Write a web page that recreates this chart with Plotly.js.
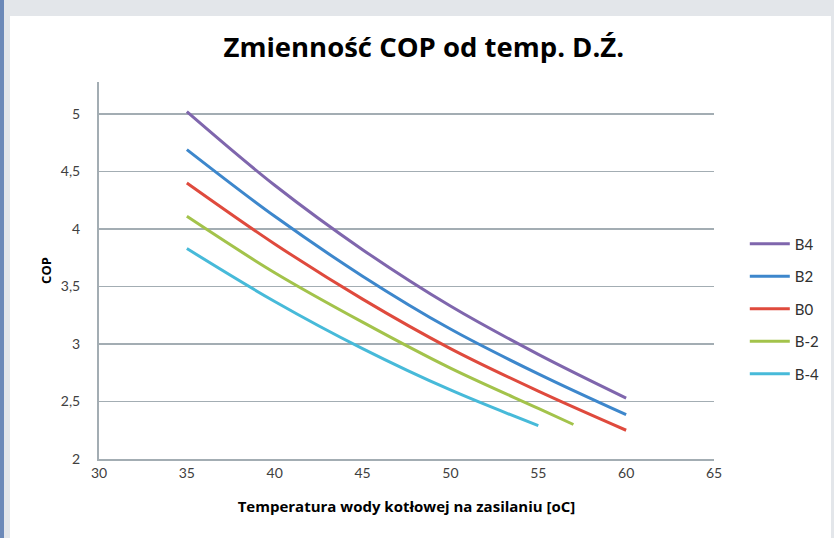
<!DOCTYPE html>
<html>
<head>
<meta charset="utf-8">
<script src="https://cdn.plot.ly/plotly-3.0.1.min.js"></script>
<style>
  html, body { margin: 0; padding: 0; }
  body { width: 834px; height: 538px; background: #e3e6ea; position: relative; overflow: hidden; }
  #blue { position: absolute; left: 0; top: 0; width: 4px; height: 538px; background: #6c89b8; }
  #chart { position: absolute; left: 10px; top: 16px; width: 821px; height: 522px; background: #fff; }
</style>
</head>
<body>
<div id="blue"></div>
<div id="chart"></div>
<script>
// Data
const seriesNames = ["B4", "B2", "B0", "B-2", "B-4"];
const xB4 = [35, 40, 45, 50, 55, 60];
const yB4 = [5.02, 4.38, 3.82, 3.33, 2.91, 2.53];
const xB2 = [35, 40, 45, 50, 55, 60];
const yB2 = [4.69, 4.11, 3.59, 3.13, 2.74, 2.385];
const xB0 = [35, 40, 45, 50, 55, 60];
const yB0 = [4.40, 3.87, 3.39, 2.96, 2.59, 2.25];
const xBm2 = [35, 40, 45, 50, 55, 57];
const yBm2 = [4.11, 3.62, 3.19, 2.79, 2.44, 2.30];
const xBm4 = [35, 40, 45, 50, 55];
const yBm4 = [3.83, 3.37, 2.96, 2.60, 2.29];
const seriesColors = ["#7f66ad", "#3d87cc", "#df4a3d", "#a3c34b", "#47bad9"];

const xTickVals = [30, 35, 40, 45, 50, 55, 60, 65];
const xTickText = ["30", "35", "40", "45", "50", "55", "60", "65"];
const yTickVals = [2, 2.5, 3, 3.5, 4, 4.5, 5];
const yTickText = ["2", "2,5", "3", "3,5", "4", "4,5", "5"];

const xs = [xB4, xB2, xB0, xBm2, xBm4];
const ys = [yB4, yB2, yB0, yBm2, yBm4];

const traces = seriesNames.map((n, i) => ({
  type: "scatter",
  mode: "lines",
  name: n,
  legendgroup: n,
  x: xs[i],
  y: ys[i],
  line: { color: seriesColors[i], width: 3, shape: "spline", smoothing: 1 },
  hoverinfo: "skip"
}));

const gridCol = "#a3adb3";
const tickFont = { family: "Lato, 'Open Sans', sans-serif", size: 14, color: "#404040" };

const layout = {
  width: 821,
  height: 522,
  paper_bgcolor: "#ffffff",
  plot_bgcolor: "#ffffff",
  margin: { l: 89, r: 117, t: 66, b: 79 },
  title: {
    text: "Zmienność COP od temp. D.Ź.",
    font: { family: "'Open Sans', Lato, sans-serif", size: 27.5, color: "#000000", weight: "bold" },
    x: 0.504, xanchor: "center", xref: "container",
    y: 0.939, yanchor: "middle", yref: "container"
  },
  xaxis: {
    range: [30, 65],
    tickmode: "array", tickvals: xTickVals, ticktext: xTickText,
    showgrid: false, zeroline: false,
    showline: true, linecolor: gridCol, linewidth: 2,
    ticks: "", ticklabelstandoff: 0,
    tickfont: tickFont,
    title: {
      text: "Temperatura wody kotłowej na zasilaniu [oC]",
      font: { family: "'Open Sans', Lato, sans-serif", size: 15, color: "#000000", weight: "bold" },
      standoff: 22
    }
  },
  yaxis: {
    range: [2, 5.278],
    tickmode: "array", tickvals: yTickVals, ticktext: yTickText,
    showgrid: true, gridcolor: gridCol, gridwidth: 1.5,
    zeroline: false,
    showline: true, linecolor: gridCol, linewidth: 2,
    ticks: "", ticklabelstandoff: 14,
    tickfont: tickFont,
    title: {
      text: "COP",
      font: { family: "'Open Sans', Lato, sans-serif", size: 13, color: "#000000", weight: "bold" },
      standoff: 6
    }
  },
  showlegend: true,
  legend: {
    xref: "container", yref: "container",
    x: 0.895, xanchor: "left",
    y: 0.595, yanchor: "top",
    traceorder: "grouped",
    tracegroupgap: 10,
    itemwidth: 40,
    bgcolor: "rgba(0,0,0,0)",
    font: { family: "Lato, 'Open Sans', sans-serif", size: 15, color: "#303030" }
  }
};

Plotly.newPlot("chart", traces, layout, { displayModeBar: false, staticPlot: true });
</script>
</body>
</html>
